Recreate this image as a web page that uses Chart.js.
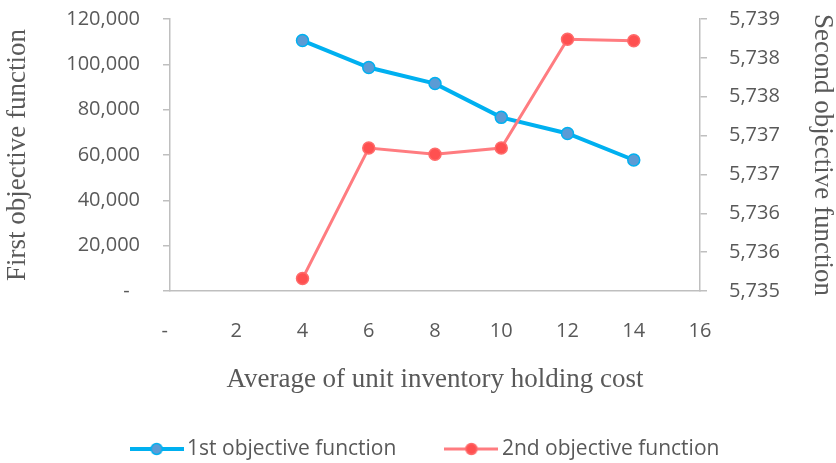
<!DOCTYPE html>
<html>
<head>
<meta charset="utf-8">
<script src="https://cdn.jsdelivr.net/npm/chart.js@4.4.0/dist/chart.umd.min.js"></script>
<style>
html,body{margin:0;padding:0;background:#fff;}
#wrap{width:836px;height:463px;position:relative;}
</style>
</head>
<body>
<div id="wrap"><canvas id="c"></canvas></div>
<script>
// ---- data ----
const holdingCost = [4, 6, 8, 10, 12, 14];
const firstObjective = [110500, 98600, 91500, 76600, 69500, 57800];
const secondObjective = [5735.16, 5736.84, 5736.76, 5736.84, 5738.24, 5738.22];
const seriesNames = ['1st objective function', '2nd objective function'];
const xTitle = 'Average of unit inventory holding cost';
const yLeftTitle = 'First objective function';
const yRightTitle = 'Second objective function';

// ---- styles ----
const GRAY = '#595959';
const AXIS = '#BFBFBF';
const BLUE_LINE = '#00B0F0', BLUE_FILL = '#5B9BD5';
const RED_LINE = '#FF7C80', RED_FILL = '#FF5050', RED_BORDER = '#FF6B6B';
const SERIF = '"Liberation Serif", "Times New Roman", serif';
const SANS = '"Open Sans", sans-serif';
const fmt0 = new Intl.NumberFormat('en-US', {maximumFractionDigits: 0});

function legendIcon(line, fill, border, lw) {
  const W = 54, H = 16;
  const c = document.createElement('canvas');
  c.width = W; c.height = H;
  const g = c.getContext('2d');
  g.strokeStyle = line; g.lineWidth = lw;
  g.beginPath(); g.moveTo(0, H / 2); g.lineTo(W, H / 2); g.stroke();
  g.beginPath(); g.arc(W / 2, H / 2, 5.5, 0, Math.PI * 2);
  g.fillStyle = fill; g.fill();
  g.lineWidth = 1.5; g.strokeStyle = border; g.stroke();
  return c;
}
const icons = [legendIcon(BLUE_LINE, BLUE_FILL, BLUE_LINE, 4), legendIcon(RED_LINE, RED_FILL, RED_BORDER, 3)];

const toPoints = (ys) => holdingCost.map((x, i) => ({x: x, y: ys[i]}));
const noVPad = (s) => { s.paddingTop = 0; s.paddingBottom = 0; };

Chart.defaults.font.family = SANS;
Chart.defaults.color = GRAY;

new Chart(document.getElementById('c'), {
  type: 'line',
  data: {
    datasets: [
      {
        label: seriesNames[0],
        data: toPoints(firstObjective),
        yAxisID: 'y',
        borderColor: BLUE_LINE,
        borderWidth: 4,
        pointRadius: 6,
        pointHoverRadius: 6,
        pointBackgroundColor: BLUE_FILL,
        pointBorderColor: BLUE_LINE,
        pointBorderWidth: 1.5,
        tension: 0,
        order: 1
      },
      {
        label: seriesNames[1],
        data: toPoints(secondObjective),
        yAxisID: 'y2',
        borderColor: RED_LINE,
        borderWidth: 3,
        pointRadius: 6,
        pointHoverRadius: 6,
        pointBackgroundColor: RED_FILL,
        pointBorderColor: RED_BORDER,
        pointBorderWidth: 1.5,
        tension: 0,
        order: 0
      }
    ]
  },
  options: {
    responsive: true,
    maintainAspectRatio: false,
    animation: false,
    layout: {padding: {top: 19, left: 20, right: 0, bottom: -6.5}},
    plugins: {
      tooltip: {enabled: false},
      legend: {
        position: 'bottom',
        labels: {
          usePointStyle: true,
          pointStyleWidth: 40,
          padding: 55,
          color: GRAY,
          font: {size: 21, family: SANS},
          generateLabels: (chart) => chart.data.datasets.map((ds, i) => ({
            text: ds.label,
            pointStyle: icons[i],
            fillStyle: ds.pointBackgroundColor,
            strokeStyle: ds.borderColor,
            lineWidth: 0,
            fontColor: GRAY,
            hidden: false,
            datasetIndex: i
          }))
        }
      }
    },
    scales: {
      x: {
        type: 'linear',
        position: 'bottom',
        min: 0, max: 16,
        ticks: {stepSize: 2, padding: 28, color: GRAY, font: {size: 20},
          callback: (v) => v === 0 ? '-  ' : String(v)},
        grid: {display: false, drawTicks: false},
        border: {display: true, color: AXIS, width: 1.5},
        title: {display: true, text: xTitle, color: GRAY,
          font: {family: SERIF, size: 27, lineHeight: 1}, padding: {top: 0, bottom: -10}},
        afterFit: (s) => { s.height = 92.5; }
      },
      y: {
        position: 'left',
        min: 0, max: 120000,
        ticks: {stepSize: 20000, padding: 23, color: GRAY, font: {size: 20},
          callback: (v) => v === 0 ? '-  ' : fmt0.format(v)},
        grid: {drawOnChartArea: false, drawTicks: true, tickLength: 7, color: AXIS, lineWidth: 1.5},
        border: {display: true, color: AXIS, width: 1.5},
        title: {display: true, text: yLeftTitle, color: GRAY,
          font: {family: SERIF, size: 27, lineHeight: 1}, padding: {top: -15.5, bottom: 0}},
        afterFit: (s) => { s.width = 150; noVPad(s); }
      },
      y2: {
        position: 'right',
        min: 5735, max: 5738.5,
        ticks: {stepSize: 0.5, padding: 22, color: GRAY, font: {size: 20},
          callback: (v) => fmt0.format(v)},
        grid: {drawOnChartArea: false, drawTicks: true, tickLength: 7, color: AXIS, lineWidth: 1.5},
        border: {display: true, color: AXIS, width: 1.5},
        title: {display: true, text: yRightTitle, color: GRAY,
          font: {family: SERIF, size: 27, lineHeight: 1}, padding: {top: 0.5, bottom: 0}},
        afterFit: (s) => { s.width = 136; noVPad(s); }
      }
    }
  }
});
</script>
</body>
</html>
